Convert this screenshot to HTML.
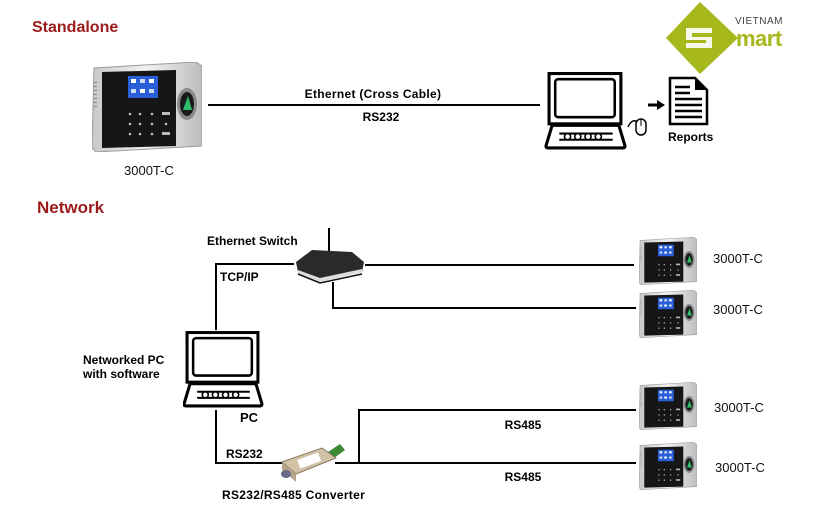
<!DOCTYPE html>
<html><head><meta charset="utf-8"><style>
html,body{margin:0;padding:0;background:#fff;}
svg{display:block;}
text{font-family:"Liberation Sans",Arial,sans-serif;}
</style></head><body>
<svg width="815" height="510" viewBox="0 0 815 510" xmlns="http://www.w3.org/2000/svg">
<defs>
<linearGradient id="silver" x1="0" y1="0" x2="1" y2="0">
<stop offset="0" stop-color="#c8c8c8"/><stop offset="0.5" stop-color="#f2f2f2"/><stop offset="1" stop-color="#bdbdbd"/>
</linearGradient>
<symbol id="dev" viewBox="0 0 110 90">
<path d="M2 6 L104 0 L110 4 L110 84 L4 90 L0 86 Z" fill="url(#silver)" stroke="#9a9a9a" stroke-width="1"/>
<path d="M10 10 L84 8 L84 84 L10 86 Z" fill="#161616"/>
<rect x="36" y="14" width="30" height="22" fill="#2b5fd9"/>
<rect x="39" y="17" width="5" height="4" fill="#fff"/><rect x="48" y="17" width="5" height="4" fill="#cde"/><rect x="57" y="17" width="5" height="4" fill="#fff"/>
<rect x="39" y="27" width="5" height="4" fill="#cde"/><rect x="48" y="27" width="5" height="4" fill="#fff"/><rect x="57" y="27" width="5" height="4" fill="#cde"/>
<g fill="#bbb">
<circle cx="38" cy="52" r="1.3"/><circle cx="48" cy="52" r="1.3"/><circle cx="60" cy="52" r="1.3"/><rect x="70" y="50" width="8" height="3"/>
<circle cx="38" cy="62" r="1.3"/><circle cx="48" cy="62" r="1.3"/><circle cx="60" cy="62" r="1.3"/><circle cx="74" cy="62" r="1.3"/>
<circle cx="38" cy="72" r="1.3"/><circle cx="48" cy="72" r="1.3"/><circle cx="60" cy="72" r="1.3"/><rect x="70" y="70" width="8" height="3"/>
</g>
<ellipse cx="95" cy="42" rx="10" ry="16" fill="#8a8a8a"/>
<ellipse cx="95" cy="42" rx="7" ry="12" fill="#1a1a1a"/>
<path d="M91 48 L96 34 L100 48 Z" fill="#2fbf6a"/>
<g fill="#888"><rect x="2" y="20" width="3" height="1"/><rect x="2" y="24" width="3" height="1"/><rect x="2" y="28" width="3" height="1"/><rect x="2" y="32" width="3" height="1"/><rect x="2" y="36" width="3" height="1"/><rect x="2" y="40" width="3" height="1"/><rect x="2" y="44" width="3" height="1"/></g>
</symbol>
<symbol id="pc" viewBox="0 0 80 76">
<rect x="4" y="1.5" width="70" height="49" fill="#fff" stroke="#000" stroke-width="3"/>
<rect x="10" y="7" width="58" height="37" rx="3" fill="#fff" stroke="#000" stroke-width="2.5"/>
<path d="M7 52 L72 52 L78 72 Q78 74 76 74 L3 74 Q1 74 1 72 Z" fill="#fff" stroke="#000" stroke-width="3"/>
<path d="M14 60 L66 60 M14 66 L66 66" stroke="#000" stroke-width="2"/>
<g fill="#fff" stroke="#000" stroke-width="1.6"><circle cx="22" cy="63" r="3"/><circle cx="32" cy="63" r="3"/><circle cx="42" cy="63" r="3"/><circle cx="52" cy="63" r="3"/></g>
</symbol>
</defs>

<text x="32" y="32" font-size="16" font-weight="bold" fill="#9b1b1b">Standalone</text>
<text x="37" y="213" font-size="17" font-weight="bold" fill="#9b1b1b">Network</text>

<use href="#dev" x="92" y="62" width="110" height="90"/>
<text x="124" y="175" font-size="13" fill="#111">3000T-C</text>
<line x1="208" y1="105" x2="540" y2="105" stroke="#000" stroke-width="2"/>
<text x="373" y="98" font-size="12" font-weight="bold" text-anchor="middle" letter-spacing="0.3">Ethernet  (Cross Cable)</text>
<text x="381" y="121" font-size="12" font-weight="bold" text-anchor="middle">RS232</text>
<use href="#pc" x="543" y="72" width="86" height="78"/>
<path d="M628 127 Q632 118 638 122" fill="none" stroke="#000" stroke-width="1.5"/>
<rect x="636" y="119" width="10" height="16" rx="5" fill="#fff" stroke="#000" stroke-width="1.5"/>
<line x1="641" y1="119" x2="641" y2="126" stroke="#000" stroke-width="1"/>
<line x1="648" y1="105" x2="658" y2="105" stroke="#000" stroke-width="3"/>
<path d="M657 100 L665 105 L657 110 Z" fill="#000"/>
<path d="M670 78 L695 78 L707 90 L707 124 L670 124 Z" fill="#fff" stroke="#000" stroke-width="2.5"/>
<path d="M695 78 L695 90 L707 90" fill="#000"/>
<g stroke="#000" stroke-width="2.5"><line x1="675" y1="87" x2="690" y2="87"/><line x1="675" y1="93" x2="690" y2="93"/><line x1="675" y1="99" x2="702" y2="99"/><line x1="675" y1="105" x2="702" y2="105"/><line x1="675" y1="111" x2="702" y2="111"/><line x1="675" y1="117" x2="702" y2="117"/></g>
<text x="668" y="141" font-size="12" font-weight="bold">Reports</text>

<path d="M700 2 L738 38 L700 74 L666 38 Z" fill="#a6b81c"/>
<path d="M686 28 L712 28 L712 33 L692 33 L692 37 L712 37 L712 48 L686 48 L686 43 L706 43 L706 40 L686 40 Z" fill="#fff" opacity="0.9"/>
<text x="735" y="24" font-size="10" fill="#444" letter-spacing="0.5">VIETNAM</text>
<text x="736" y="46" font-size="22" font-weight="bold" fill="#a6b81c" letter-spacing="-0.5">mart</text>

<g stroke="#000" stroke-width="2" fill="none">
<polyline points="294,264 216,264 216,330"/>
<line x1="329" y1="228" x2="329" y2="252"/>
<line x1="365" y1="265" x2="634" y2="265"/>
<polyline points="333,282 333,308 636,308"/>
<polyline points="216,410 216,463 282,463"/>
<polyline points="636,410 359,410 359,463"/>
<line x1="335" y1="463" x2="636" y2="463"/>
</g>

<path d="M296 262 L312 250 L352 252 L364 262 L362 272 L320 281 L298 272 Z" fill="#2a2a2a"/>
<path d="M298 270 L320 278 L362 269 L362 272 L320 282 L298 273 Z" fill="#ddd"/>
<path d="M298 274 L320 283 L362 274" stroke="#111" stroke-width="1.5" fill="none"/>
<text x="207" y="245" font-size="12" font-weight="bold">Ethernet Switch</text>
<text x="220" y="281" font-size="12" font-weight="bold">TCP/IP</text>

<use href="#pc" x="183" y="331" width="81" height="77"/>
<text x="83" y="364" font-size="12" font-weight="bold">Networked PC</text>
<text x="83" y="378" font-size="12" font-weight="bold">with software</text>
<text x="240" y="422" font-size="13" font-weight="bold">PC</text>
<text x="226" y="458" font-size="12" font-weight="bold">RS232</text>

<path d="M328 452 L340 444 L345 450 L334 458 Z" fill="#3d8a36"/>
<path d="M282 462 L322 448 L336 458 L296 474 Z" fill="#d2c3a8" stroke="#8a7a60" stroke-width="1"/>
<rect x="298" y="456" width="22" height="9" fill="#fff" transform="rotate(-20 309 460)"/>
<path d="M282 462 L296 474 L296 482 L282 470 Z" fill="#b5a58a"/>
<ellipse cx="286" cy="474" rx="5" ry="4" fill="#6a6a8a"/>
<text x="222" y="499" font-size="12" font-weight="bold" letter-spacing="0.3">RS232/RS485 Converter</text>
<text x="523" y="429" font-size="12" font-weight="bold" text-anchor="middle">RS485</text>
<text x="523" y="481" font-size="12" font-weight="bold" text-anchor="middle">RS485</text>

<use href="#dev" x="639" y="236" width="58" height="50"/>
<use href="#dev" x="639" y="289" width="58" height="50"/>
<use href="#dev" x="639" y="381" width="58" height="50"/>
<use href="#dev" x="639" y="441" width="58" height="50"/>
<g font-size="13" fill="#111">
<text x="713" y="263">3000T-C</text>
<text x="713" y="314">3000T-C</text>
<text x="714" y="412">3000T-C</text>
<text x="715" y="472">3000T-C</text>
</g>
</svg>
</body></html>
